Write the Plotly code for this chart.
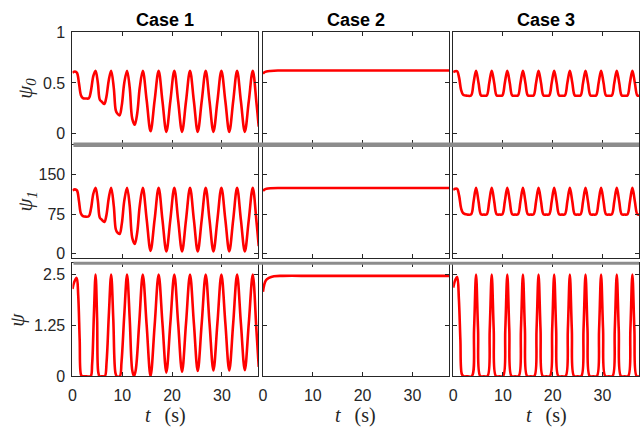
import plotly.graph_objects as go

# ---------------- data (time [s], value) ----------------
c1_psi0 = [(0, 0.600), (0.5, 0.612), (0.9, 0.600), (1.3, 0.50), (1.7, 0.38), (2.1, 0.350), (2.7, 0.347),
           (3.3, 0.350), (3.7, 0.42), (4.2, 0.57), (4.64, 0.620), (5.1, 0.50), (5.5, 0.335), (5.9, 0.315),
           (6.4, 0.293), (6.8, 0.36), (7.3, 0.53), (7.77, 0.620), (8.3, 0.45), (8.7, 0.23), (9.0, 0.20),
           (9.45, 0.182), (9.9, 0.28), (10.4, 0.50), (10.96, 0.620), (11.5, 0.45), (12.0, 0.15), (12.5, 0.090),
           (13.0, 0.20), (13.5, 0.45), (14.12, 0.620), (14.9, 0.33), (15.68, 0.025), (16.5, 0.33), (17.3, 0.620),
           (18.07, 0.32), (18.85, 0.020), (19.65, 0.32), (20.45, 0.620), (21.22, 0.32), (22.0, 0.020),
           (22.8, 0.32), (23.6, 0.620), (24.38, 0.32), (25.15, 0.020), (25.95, 0.32), (26.75, 0.620),
           (27.52, 0.32), (28.3, 0.020), (29.1, 0.32), (29.9, 0.620), (30.7, 0.32), (31.48, 0.020),
           (32.27, 0.32), (33.05, 0.620), (33.82, 0.32), (34.6, 0.020), (35.4, 0.32), (36.2, 0.620),
           (36.95, 0.30), (37.4, 0.07)]

c1_psi1 = [(0, 120), (0.5, 122), (0.9, 120), (1.3, 100), (1.7, 76), (2.1, 71), (2.7, 70), (3.3, 71),
           (3.7, 84), (4.2, 114), (4.64, 125), (5.1, 100), (5.5, 68), (5.9, 64), (6.4, 60), (6.8, 72),
           (7.3, 106), (7.77, 125), (8.3, 90), (8.7, 46), (9.0, 40), (9.45, 37), (9.9, 56), (10.4, 100),
           (10.96, 125), (11.5, 90), (12.0, 30), (12.5, 18), (13.0, 40), (13.5, 90), (14.12, 125), (14.9, 65),
           (15.68, 5), (16.5, 65), (17.3, 125), (18.07, 64), (18.85, 4), (19.65, 64), (20.45, 125),
           (21.22, 64), (22.0, 4), (22.8, 64), (23.6, 125), (24.38, 64), (25.15, 4), (25.95, 64),
           (26.75, 125), (27.52, 64), (28.3, 4), (29.1, 64), (29.9, 125), (30.7, 64), (31.48, 4),
           (32.27, 64), (33.05, 125), (33.82, 64), (34.6, 4), (35.4, 64), (36.2, 125), (36.95, 60), (37.4, 14)]

c1_psi = [(0, 2.15), (0.4, 2.33), (0.85, 2.42), (1.15, 2.0), (1.45, 0.9), (1.73, 0.03), (2.0, 0.0),
          (2.8, 0.0), (3.65, 0.0), (3.95, 0.3), (4.3, 1.5), (4.64, 2.50), (4.95, 1.4), (5.18, 0.1),
          (5.45, 0.0), (6.0, 0.0), (6.5, 0.0), (6.85, 0.35), (7.3, 1.5), (7.77, 2.50), (8.2, 1.4),
          (8.63, 0.08), (8.9, 0.0), (9.5, 0.0), (9.85, 0.35), (10.4, 1.5), (10.96, 2.50), (11.5, 1.4),
          (12.0, 0.15), (12.35, 0.0), (12.7, 0.15), (13.4, 1.3), (14.12, 2.50), (14.9, 1.25), (15.68, 0.0),
          (16.5, 1.25), (17.3, 2.50), (18.07, 1.3), (18.85, 0.09), (19.65, 1.3), (20.45, 2.50), (21.22, 1.3),
          (22.0, 0.11), (22.8, 1.3), (23.6, 2.50), (24.38, 1.3), (25.15, 0.13), (25.95, 1.3), (26.75, 2.50),
          (27.52, 1.3), (28.3, 0.14), (29.1, 1.3), (29.9, 2.50), (30.7, 1.3), (31.48, 0.14), (32.27, 1.3),
          (33.05, 2.50), (33.82, 1.3), (34.6, 0.15), (35.4, 1.3), (36.2, 2.50), (36.95, 1.1), (37.4, 0.23)]

c2_psi0 = [(0, 0.59), (0.3, 0.605), (0.7, 0.613), (1.5, 0.618), (3, 0.622), (10, 0.622), (20, 0.622),
           (30, 0.622), (37.4, 0.622)]

c2_psi1 = [(0, 119), (0.3, 121.5), (0.7, 123), (1.5, 124), (3, 124.5), (10, 124.5), (20, 124.5),
           (30, 124.5), (37.4, 124.5)]

c2_psi = [(0, 2.08), (0.25, 2.25), (0.6, 2.36), (1.2, 2.42), (2.2, 2.46), (4, 2.47), (10, 2.47),
          (20, 2.47), (30, 2.47), (37.4, 2.47)]

c3_psi0 = [(0, 0.605), (0.4, 0.615), (0.8, 0.615), (1.2, 0.55), (1.6, 0.43), (2.0, 0.385), (2.8, 0.375),
           (3.6, 0.377), (4.1, 0.50), (4.6, 0.62), (5.1, 0.50), (5.6, 0.377), (6.17, 0.375),
           (6.75, 0.377), (7.25, 0.50), (7.75, 0.62), (8.25, 0.50), (8.75, 0.377), (9.32, 0.375),
           (9.88, 0.377), (10.38, 0.50), (10.88, 0.62), (11.38, 0.50), (11.88, 0.377), (12.45, 0.375),
           (13.02, 0.377), (13.52, 0.50), (14.02, 0.62), (14.52, 0.50), (15.02, 0.377), (15.59, 0.375),
           (16.16, 0.377), (16.66, 0.50), (17.16, 0.62), (17.66, 0.50), (18.16, 0.377), (18.73, 0.375),
           (19.3, 0.377), (19.8, 0.50), (20.3, 0.62), (20.8, 0.50), (21.3, 0.377), (21.87, 0.375),
           (22.45, 0.377), (22.95, 0.50), (23.45, 0.62), (23.95, 0.50), (24.45, 0.377), (25.02, 0.375),
           (25.6, 0.377), (26.1, 0.50), (26.6, 0.62), (27.1, 0.50), (27.6, 0.377), (28.17, 0.375),
           (28.73, 0.377), (29.23, 0.50), (29.73, 0.62), (30.23, 0.50), (30.73, 0.377), (31.3, 0.375),
           (31.88, 0.377), (32.38, 0.50), (32.88, 0.62), (33.38, 0.50), (33.88, 0.377), (34.45, 0.375),
           (35.02, 0.377), (35.52, 0.50), (36.02, 0.62), (36.52, 0.50), (37.02, 0.377), (37.4, 0.375)]

c3_psi1 = [(0, 121), (0.4, 123), (0.8, 123), (1.2, 110), (1.6, 86), (2.0, 77), (2.8, 74),
           (3.6, 74.5), (4.1, 99), (4.6, 125), (5.1, 99), (5.6, 74.5), (6.17, 74),
           (6.75, 74.5), (7.25, 99), (7.75, 125), (8.25, 99), (8.75, 74.5), (9.32, 74),
           (9.88, 74.5), (10.38, 99), (10.88, 125), (11.38, 99), (11.88, 74.5), (12.45, 74),
           (13.02, 74.5), (13.52, 99), (14.02, 125), (14.52, 99), (15.02, 74.5), (15.59, 74),
           (16.16, 74.5), (16.66, 99), (17.16, 125), (17.66, 99), (18.16, 74.5), (18.73, 74),
           (19.3, 74.5), (19.8, 99), (20.3, 125), (20.8, 99), (21.3, 74.5), (21.87, 74),
           (22.45, 74.5), (22.95, 99), (23.45, 125), (23.95, 99), (24.45, 74.5), (25.02, 74),
           (25.6, 74.5), (26.1, 99), (26.6, 125), (27.1, 99), (27.6, 74.5), (28.17, 74),
           (28.73, 74.5), (29.23, 99), (29.73, 125), (30.23, 99), (30.73, 74.5), (31.3, 74),
           (31.88, 74.5), (32.38, 99), (32.88, 125), (33.38, 99), (33.88, 74.5), (34.45, 74),
           (35.02, 74.5), (35.52, 99), (36.02, 125), (36.52, 99), (37.02, 74.5), (37.4, 74)]

c3_psi = [(0, 2.18), (0.4, 2.36), (0.8, 2.44), (1.15, 1.9), (1.45, 0.9), (1.75, 0.05), (2.1, 0), (2.9, 0),
          (3.75, 0), (4.2, 1.15), (4.6, 2.5), (5.0, 1.15), (5.45, 0), (6.17, 0),
          (6.9, 0), (7.35, 1.15), (7.75, 2.5), (8.15, 1.15), (8.6, 0), (9.32, 0),
          (10.03, 0), (10.48, 1.15), (10.88, 2.5), (11.28, 1.15), (11.73, 0), (12.45, 0),
          (13.17, 0), (13.62, 1.15), (14.02, 2.5), (14.42, 1.15), (14.87, 0), (15.59, 0),
          (16.31, 0), (16.76, 1.15), (17.16, 2.5), (17.56, 1.15), (18.01, 0), (18.73, 0),
          (19.45, 0), (19.9, 1.15), (20.3, 2.5), (20.7, 1.15), (21.15, 0), (21.87, 0),
          (22.6, 0), (23.05, 1.15), (23.45, 2.5), (23.85, 1.15), (24.3, 0), (25.02, 0),
          (25.75, 0), (26.2, 1.15), (26.6, 2.5), (27.0, 1.15), (27.45, 0), (28.17, 0),
          (28.88, 0), (29.33, 1.15), (29.73, 2.5), (30.13, 1.15), (30.58, 0), (31.3, 0),
          (32.03, 0), (32.48, 1.15), (32.88, 2.5), (33.28, 1.15), (33.73, 0), (34.45, 0),
          (35.17, 0), (35.62, 1.15), (36.02, 2.5), (36.42, 1.15), (36.87, 0), (37.4, 0)]

case_titles = ["Case 1", "Case 2", "Case 3"]
row_labels = ["ψ<sub>0</sub>", "ψ<sub>1</sub>", "ψ"]
x_tickvals = [0, 10, 20, 30]
y_tickvals = [[0, 0.5, 1], [0, 75, 150], [0, 1.25, 2.5]]
y_ticktext = [["0", "0.5", "1"], ["0", "75", "150"], ["0", "1.25", "2.5"]]
y_ranges = [[-0.1, 1.0], [-9.5, 206.3], [0, 2.78]]
x_range = [0, 37.35]

series = [[c1_psi0, c2_psi0, c3_psi0],
          [c1_psi1, c2_psi1, c3_psi1],
          [c1_psi, c2_psi, c3_psi]]

# ---------------- layout geometry (pixels) ----------------
W, H = 640, 441
col_px = [(69, 256.5), (261, 448.5), (452.7, 640)]
row_px = [(25, 141.5), (142.5, 260.5), (265.5, 383)]
AX = "#262626"
tickfont = dict(family="Liberation Sans, Arial, sans-serif", size=16, color=AX)

fig = go.Figure()
layout_axes = {}
for r in range(3):
    for c in range(3):
        i = r * 3 + c + 1
        xs = [p[0] for p in series[r][c]]
        ys = [p[1] for p in series[r][c]]
        fig.add_trace(go.Scatter(
            x=xs, y=ys, mode="lines",
            line=dict(color="#ff0000", width=2.6, shape="spline", smoothing=1.0),
            xaxis=f"x{i}", yaxis=f"y{i}", showlegend=False, hoverinfo="skip"))
        xname = "xaxis" if i == 1 else f"xaxis{i}"
        yname = "yaxis" if i == 1 else f"yaxis{i}"
        layout_axes[xname] = dict(
            domain=[col_px[c][0] / W, col_px[c][1] / W], range=x_range, anchor=f"y{i}",
            tickmode="array", tickvals=x_tickvals, showticklabels=(r == 2),
            ticks="inside", ticklen=4, tickwidth=1, tickcolor=AX,
            showline=True, mirror="ticks", linecolor=AX, linewidth=1,
            showgrid=False, zeroline=False, tickfont=tickfont, ticklabelstandoff=5)
        layout_axes[yname] = dict(
            domain=[1 - row_px[r][1] / H, 1 - row_px[r][0] / H], range=y_ranges[r], anchor=f"x{i}",
            tickmode="array", tickvals=y_tickvals[r], ticktext=y_ticktext[r], showticklabels=(c == 0),
            ticks="inside", ticklen=4, tickwidth=1, tickcolor=AX,
            showline=True, mirror="ticks", linecolor=AX, linewidth=1,
            showgrid=False, zeroline=False, tickfont=tickfont, ticklabelstandoff=3)

annotations = []
for c in range(3):
    cx = (col_px[c][0] + col_px[c][1]) / 2 / W
    annotations.append(dict(text=f"<b>{case_titles[c]}</b>", x=cx, y=1 - 12 / H, xref="paper", yref="paper",
                            showarrow=False, xanchor="center", yanchor="middle",
                            font=dict(family="Liberation Sans, Arial, sans-serif", size=18, color="#000000")))
    annotations.append(dict(text="<i>t</i>\u2002\u2009(s)", x=cx, y=1 - 424 / H, xref="paper", yref="paper",
                            showarrow=False, xanchor="center", yanchor="middle",
                            font=dict(family="Liberation Serif, serif", size=20, color=AX)))
label_x = [22, 22, 13]
for r in range(3):
    cy = (row_px[r][0] + row_px[r][1]) / 2
    annotations.append(dict(text=f"<i>{row_labels[r]}</i>", x=label_x[r] / W, y=1 - cy / H,
                            xref="paper", yref="paper", showarrow=False, textangle=-90,
                            xanchor="center", yanchor="middle",
                            font=dict(family="Liberation Serif, serif", size=21, color=AX)))

shapes = [
    dict(type="rect", xref="paper", yref="paper", x0=70 / W, x1=1, y0=1 - 144.5 / H, y1=1 - 140 / H,
         fillcolor="#8c8c8c", line=dict(width=0), layer="above"),
    dict(type="rect", xref="paper", yref="paper", x0=70 / W, x1=1, y0=1 - 267 / H, y1=1 - 264 / H,
         fillcolor="#8c8c8c", line=dict(width=0), layer="above"),
]

fig.update_layout(width=W, height=H, margin=dict(l=0, r=0, t=0, b=0),
                  paper_bgcolor="white", plot_bgcolor="white",
                  annotations=annotations, shapes=shapes, **layout_axes)

fig.write_html("out.html",
               post_script="document.body.style.margin='0';document.body.style.padding='0';"
                           "document.documentElement.style.overflow='hidden';")
